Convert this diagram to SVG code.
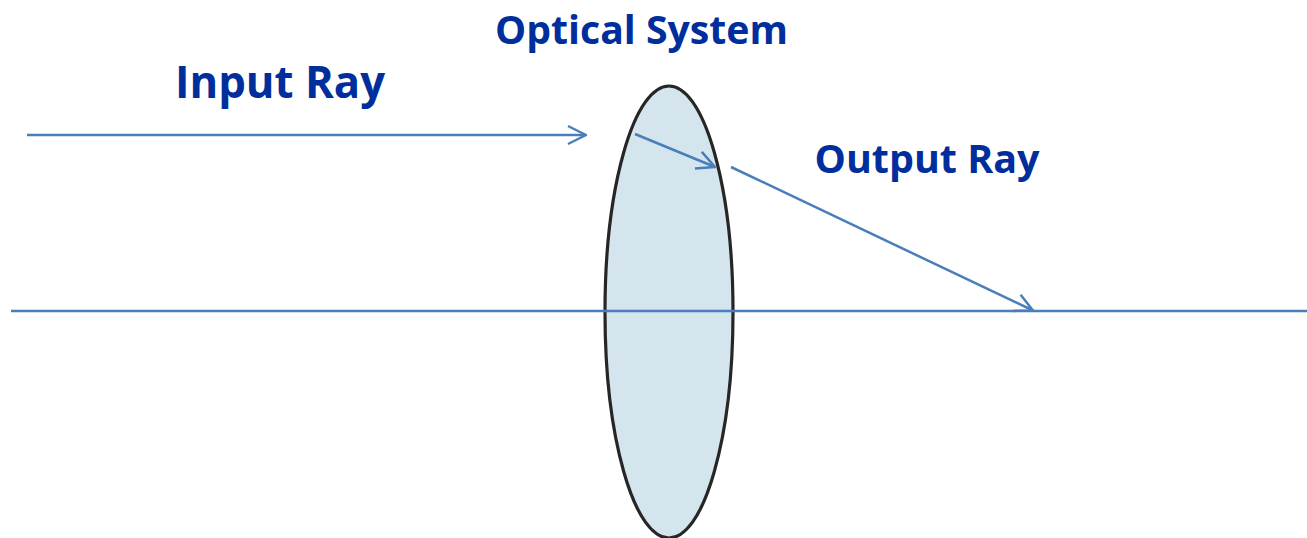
<svg xmlns="http://www.w3.org/2000/svg" width="1307" height="538" viewBox="0 0 1307 538">
<style>
.t{font-family:"Open Sans","Liberation Sans",sans-serif;font-weight:700;fill:#002e9c}
.c{fill:none;stroke:#4a7ebb;stroke-width:2.500}
</style>
<defs><marker id="a" markerUnits="userSpaceOnUse" markerWidth="24" markerHeight="24" refX="20" refY="10" orient="auto" overflow="visible"><path d="M2 1L20 10L2 19" fill="none" stroke="#4a7ebb" stroke-width="2.500" stroke-linejoin="round"/></marker></defs>
<rect width="1307" height="538" fill="#fff"/>
<g id="lens"><ellipse cx="669" cy="312" rx="64" ry="226" fill="#d4e5ee" stroke="#262626" stroke-width="3.200"/></g>
<g id="connectors">
<path class="c" d="M11 311H1307"/>
<path class="c" d="M635 134L715 167" marker-end="url(#a)"/>
<path class="c" d="M27 135H586" marker-end="url(#a)"/>
<path class="c" d="M731 167L1033 310.500" marker-end="url(#a)"/>
</g>
<g id="optical-system"><text class="t" x="641.500" y="44" font-size="39" textLength="293" lengthAdjust="spacingAndGlyphs" text-anchor="middle">Optical System</text></g>
<g id="input-ray"><text class="t" x="280" y="98" font-size="45" textLength="210" lengthAdjust="spacingAndGlyphs" text-anchor="middle">Input Ray</text></g>
<g id="output-ray"><text class="t" x="927" y="173" font-size="39" textLength="225" lengthAdjust="spacingAndGlyphs" text-anchor="middle">Output Ray</text></g>
</svg>
